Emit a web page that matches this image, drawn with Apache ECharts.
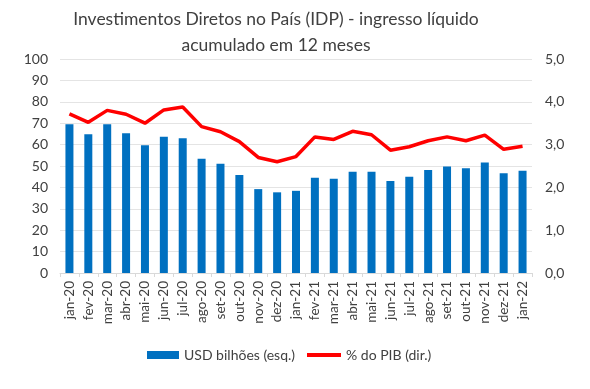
<!DOCTYPE html>
<html><head><meta charset="utf-8">
<script src="https://cdn.jsdelivr.net/npm/echarts@6/dist/echarts.min.js"></script>
<style>html,body{margin:0;padding:0;background:#fff}#c{width:590px;height:389px}</style>
</head><body><div id="c"></div>
<script>
const categories = ['jan-20','fev-20','mar-20','abr-20','mai-20','jun-20','jul-20','ago-20','set-20','out-20','nov-20','dez-20','jan-21','fev-21','mar-21','abr-21','mai-21','jun-21','jul-21','ago-21','set-21','out-21','nov-21','dez-21','jan-22'];
const usdBilhoes = [69.5,64.8,69.5,65.3,59.7,63.7,63.0,53.4,51.1,45.8,39.2,37.7,38.4,44.5,44.1,47.3,47.3,43.0,45.0,48.1,49.8,48.9,51.6,46.6,47.8];
const pctPIB = [3.72,3.52,3.80,3.71,3.50,3.81,3.88,3.42,3.30,3.07,2.70,2.60,2.72,3.18,3.12,3.31,3.23,2.87,2.95,3.09,3.18,3.09,3.22,2.89,2.96];
const leftTicks = [0,100,10];
const rightTicks = [0,5,1];
const titleLines = ['Investimentos Diretos no País (IDP) - ingresso líquido','acumulado em 12 meses'];
const font = 'Lato';
const chart = echarts.init(document.getElementById('c'));
chart.setOption({
  animation:false,
  textStyle:{fontFamily:font},
  graphic:[
    {type:'text',x:276,y:6,style:{text:titleLines.join('\n'),fontFamily:font,fontSize:17.5,lineHeight:26,fill:'#404040',align:'center',verticalAlign:'top'}}
  ],
  grid:{left:60,right:58,top:59,bottom:116},
  legend:[
    {left:142,top:343,itemGap:6,itemWidth:32,itemHeight:8,
     textStyle:{fontFamily:font,fontSize:14,color:'#404040'},
     data:[{name:'USD bilhões (esq.)',icon:'rect'}]},
    {left:302,top:343,itemGap:6,itemWidth:34,itemHeight:4,
     textStyle:{fontFamily:font,fontSize:14,color:'#404040'},
     data:[{name:'% do PIB (dir.)',icon:'rect'}]}
  ],
  xAxis:{type:'category',data:categories,
    axisLine:{lineStyle:{color:'#d9d9d9'}},axisTick:{show:true,length:4,lineStyle:{color:'#d9d9d9'}},
    axisLabel:{rotate:90,interval:0,fontSize:13.5,color:'#404040',margin:8}},
  yAxis:[{type:'value',min:leftTicks[0],max:leftTicks[1],interval:leftTicks[2],
    axisLabel:{fontSize:14,color:'#404040',margin:12},
    splitLine:{lineStyle:{color:'#e4e4e4'}},axisLine:{show:false},axisTick:{show:false}},
   {type:'value',min:rightTicks[0],max:rightTicks[1],interval:rightTicks[2],
    axisLabel:{fontSize:14,color:'#404040',margin:13,formatter:v=>v.toFixed(1).replace('.',',')},
    splitLine:{show:false},axisLine:{show:false},axisTick:{show:false}}],
  series:[
    {name:'USD bilhões (esq.)',type:'bar',data:usdBilhoes,barWidth:8,itemStyle:{color:'#0070c0'}},
    {name:'% do PIB (dir.)',type:'line',yAxisIndex:1,data:pctPIB,symbol:'none',
      lineStyle:{color:'#ff0000',width:3.5},itemStyle:{color:'#ff0000'}}
  ]
});
</script></body></html>
